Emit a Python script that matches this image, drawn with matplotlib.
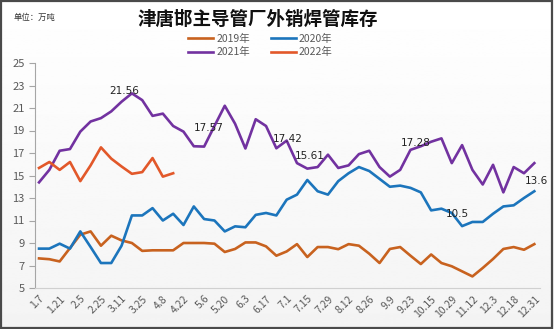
import numpy as np
import matplotlib
matplotlib.use("Agg")
import matplotlib.pyplot as plt
from matplotlib.patches import Rectangle

plt.rcParams['font.family'] = ['Noto Sans CJK SC', 'DejaVu Sans']

# x categories (every other week is labelled)
tick_labels = ['1.7', '1.21', '2.5', '2.25', '3.11', '3.25', '4.8', '4.22', '5.6', '5.20',
               '6.3', '6.17', '7.1', '7.15', '7.29', '8.12', '8.26', '9.9', '9.23', '10.15',
               '10.29', '11.12', '12.3', '12.18', '12.31']

y2019 = [7.63, 7.56, 7.36, 8.55, 9.74, 10.03, 8.76, 9.65, 9.23, 9.0,
         8.3, 8.35, 8.35, 8.35, 9.0, 9.0, 9.0, 8.94, 8.2, 8.47,
         9.05, 9.05, 8.7, 7.87, 8.25, 8.9, 7.75, 8.64, 8.64, 8.45,
         8.9, 8.76, 8.05, 7.22, 8.47, 8.64, 7.87, 7.13, 7.98, 7.22,
         6.93, 6.48, 6.03, 6.78, 7.58, 8.47, 8.64, 8.4, 8.9]
y2020 = [8.5, 8.5, 8.94, 8.5, 10.03, 8.64, 7.22, 7.22, 8.76, 11.45,
         11.45, 12.1, 11.0, 11.6, 10.6, 12.25, 11.13, 11.0, 10.03, 10.48,
         10.4, 11.5, 11.67, 11.45, 12.85, 13.3, 14.6, 13.6, 13.3, 14.5,
         15.2, 15.75, 15.4, 14.7, 14.0, 14.1, 13.9, 13.5, 11.9, 12.05,
         11.67, 10.5, 10.87, 10.87, 11.6, 12.25, 12.35, 13.0, 13.6]
y2021 = [14.39, 15.5, 17.2, 17.35, 18.9, 19.8, 20.1, 20.7, 21.56, 22.3,
         21.7, 20.3, 20.5, 19.4, 18.9, 17.6, 17.57, 19.4, 21.2, 19.6,
         17.4, 20.0, 19.4, 17.42, 18.1, 16.1, 15.61, 15.75, 16.85, 15.67,
         15.9, 16.9, 17.2, 15.75, 14.9, 15.5, 17.28, 17.6, 18.0, 18.3,
         16.1, 17.7, 15.5, 14.2, 15.95, 13.5, 15.75, 15.2, 16.1]
y2022 = [15.67, 16.2, 15.5, 16.2, 14.5, 15.9, 17.5, 16.5, 15.8, 15.15,
         15.3, 16.55, 14.9, 15.2]

# data labels shown on the chart: (text, x, y)
point_labels = [('21.56', 8.24, 22.54), ('17.57', 16.47, 19.26), ('17.42', 24.06, 18.21),
                ('15.61', 26.26, 16.76), ('17.28', 36.53, 17.89), ('13.6', 48.16, 14.48),
                ('10.5', 40.53, 11.6)]

fig = plt.figure(figsize=(5.54, 3.29), dpi=100)

# soft background gradient + outer frame
bg = fig.add_axes([0, 0, 1, 1], zorder=-10)
grad = np.linspace(1.0, 0.955, 256).reshape(-1, 1)
bg.imshow(grad, aspect='auto', cmap='gray', vmin=0, vmax=1, extent=[0, 1, 0, 1])
bg.axis('off')
fig.patches.append(Rectangle((0.002, 0.004), 0.994, 0.992, transform=fig.transFigure,
                             fill=False, edgecolor='#4a4a4a', lw=1.6))

ax = fig.add_axes([35/554, 41/329, 505/554, 225/329])
ax.patch.set_alpha(0)

x = np.arange(len(y2019))
l19, = ax.plot(x, y2019, color='#C8621F', lw=1.9, label='2019年')
l20, = ax.plot(x, y2020, color='#1C75BC', lw=1.9, label='2020年')
l21, = ax.plot(x, y2021, color='#7232A0', lw=1.9, label='2021年')
l22, = ax.plot(np.arange(len(y2022)), y2022, color='#E2582A', lw=1.9, label='2022年')

for txt, tx, ty in point_labels:
    ax.text(tx, ty, txt, ha='center', va='center', fontsize=7.5, color='#222222',
            family=['DejaVu Sans'])

ax.set_xlim(-0.39, 48.55)
ax.set_ylim(5, 25)
ax.set_yticks(range(5, 26, 2))
ax.set_xticks(range(0, 2 * len(tick_labels), 2))
ax.set_xticklabels(tick_labels, rotation=45, ha='right', rotation_mode='anchor')
ax.tick_params(axis='x', length=0, labelsize=7.5, labelcolor='#595959', pad=4)
ax.tick_params(axis='y', length=4, color='#A6A6A6', labelsize=8, labelcolor='#595959')
for s in ['top', 'right']:
    ax.spines[s].set_visible(False)
ax.spines['left'].set_color('#A6A6A6')
ax.spines['bottom'].set_color('#D0D0D0')

fig.text(0.465, 0.942, '津唐邯主导管厂外销焊管库存', ha='center', va='center',
         fontsize=13.3, fontweight='bold', color='#111111')
fig.text(0.025, 0.948, '单位：万吨', ha='left', va='center', fontsize=6, color='#333333')

fig.legend(handles=[l19, l21, l20, l22], loc='center', bbox_to_anchor=(0.47, 0.862),
           ncol=2, frameon=False, fontsize=7.5, handlelength=2.4, handletextpad=0.3,
           columnspacing=2.0, labelspacing=0.35, labelcolor='#595959')

fig.savefig('out.png', dpi=100)
